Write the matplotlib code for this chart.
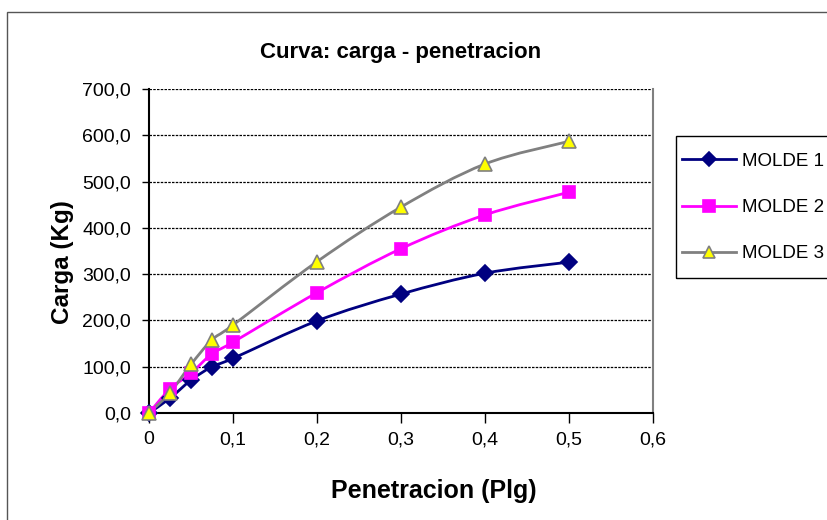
import matplotlib
matplotlib.use('Agg')
import matplotlib.pyplot as plt
from matplotlib.path import Path
from matplotlib.patches import PathPatch, Rectangle
from matplotlib.lines import Line2D
from matplotlib.ticker import FuncFormatter

plt.rcParams['font.family'] = ['Liberation Sans', 'DejaVu Sans']

# penetracion (plg)
penetracion = [0, 0.025, 0.05, 0.075, 0.1, 0.2, 0.3, 0.4, 0.5]
# carga (kg) por molde
molde1 = [0, 32, 71, 100, 118, 199, 257, 302, 326]
molde2 = [0, 52, 86, 128, 153, 260, 355, 428, 477]
molde3 = [0, 44, 105, 158, 190, 327, 445, 538, 587]

series = [
    ('MOLDE 1', molde1, '#000080', 'D', '#000080', '#000080', 8),
    ('MOLDE 2', molde2, '#FF00FF', 's', '#FF00FF', '#FF00FF', 9),
    ('MOLDE 3', molde3, '#808080', '^', '#FFFF00', '#808080', 10),
]


def smooth_path(x, y):
    # curva suavizada tipo Excel (bezier con tension 1/6)
    pts = list(zip(x, y))
    n = len(pts)
    verts = [pts[0]]
    codes = [Path.MOVETO]
    for i in range(n - 1):
        p0 = pts[i - 1] if i > 0 else pts[i]
        p1 = pts[i]
        p2 = pts[i + 1]
        p3 = pts[i + 2] if i + 2 < n else pts[i + 1]
        c1 = (p1[0] + (p2[0] - p0[0]) / 6, p1[1] + (p2[1] - p0[1]) / 6)
        c2 = (p2[0] - (p3[0] - p1[0]) / 6, p2[1] - (p3[1] - p1[1]) / 6)
        verts += [c1, c2, p2]
        codes += [Path.CURVE4] * 3
    return Path(verts, codes)


W, H = 827, 520
fig = plt.figure(figsize=(8.27, 5.2), dpi=100)
ax = fig.add_axes([149 / W, 107 / H, 504 / W, 324 / H])

# borde del area del grafico
fig.patches.append(Rectangle((7 / W, -0.1), 1.2, 1 - 12 / H + 0.1,
                             transform=fig.transFigure, fill=False,
                             edgecolor='#555555', linewidth=1.0))
# marco de la leyenda
fig.patches.append(Rectangle((676 / W, 1 - 278 / H), 0.3, 142 / H,
                             transform=fig.transFigure, fill=False,
                             edgecolor='black', linewidth=1.0))

handles = []
for name, vals, color, marker, mfc, mec, ms in series:
    ax.add_patch(PathPatch(smooth_path(penetracion, vals), facecolor='none',
                           edgecolor=color, linewidth=2.0, zorder=3))
    ax.plot(penetracion, vals, linestyle='none', marker=marker, markersize=ms,
            markerfacecolor=mfc, markeredgecolor=mec, markeredgewidth=1.2,
            zorder=4, clip_on=False)
    handles.append(Line2D([], [], color=color, linewidth=2.0, marker=marker,
                          markersize=ms - 1, markerfacecolor=mfc,
                          markeredgecolor=mec, markeredgewidth=1.2, label=name))

ax.set_xlim(0, 0.6)
ax.set_ylim(0, 700)
ax.set_xticks([0, 0.1, 0.2, 0.3, 0.4, 0.5, 0.6])
ax.set_yticks(range(0, 701, 100))
ax.xaxis.set_major_formatter(FuncFormatter(lambda v, p: '0' if v == 0 else f'{v:.1f}'.replace('.', ',')))
ax.yaxis.set_major_formatter(FuncFormatter(lambda v, p: f'{v:.1f}'.replace('.', ',')))
ax.tick_params(axis='x', direction='out', length=7, width=1, labelsize=14, pad=6)
ax.tick_params(axis='y', direction='out', length=5, width=1, labelsize=14, pad=8)

for yv in range(100, 701, 100):
    ax.axhline(yv, color='black', linewidth=0.9, linestyle=(0, (2, 1)), zorder=1)

ax.spines['top'].set_visible(False)
ax.spines['right'].set_color('#808080')
ax.spines['right'].set_linewidth(1.5)
ax.spines['left'].set_linewidth(1.5)
ax.spines['bottom'].set_linewidth(1.5)

ax.set_title('Curva: carga - penetracion', fontsize=16, fontweight='bold', pad=22)
ax.set_xlabel('Penetracion (Plg)', fontsize=18, fontweight='bold')
ax.xaxis.set_label_coords((434 - 149) / 504, (413 - 491) / 324)
ax.xaxis.label.set_va('center')
ax.set_ylabel('Carga (Kg)', fontsize=17.5, fontweight='bold')
ax.yaxis.set_label_coords((62 - 149) / 504, (413 - 262) / 324)
ax.yaxis.label.set_va('center')

fig.legend(handles=handles, loc='center left',
           bbox_to_anchor=(682 / W, 1 - 207.5 / H), fontsize=13.5,
           frameon=False, handlelength=2.9, handletextpad=0.3,
           labelspacing=1.55, borderpad=0, borderaxespad=0)

fig.savefig('out.png', dpi=100)
